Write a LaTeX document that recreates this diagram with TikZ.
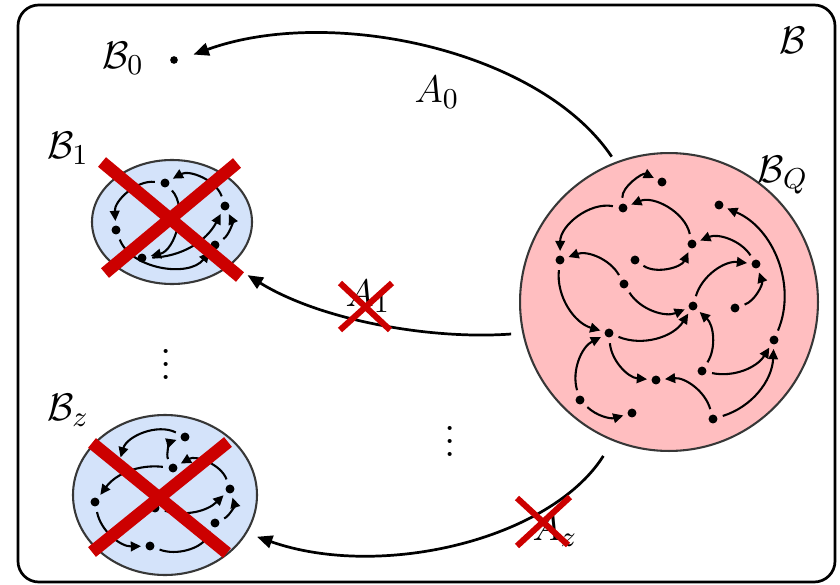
\documentclass[tikz,border=0pt]{standalone}
\usetikzlibrary{arrows.meta,shapes.geometric}
\definecolor{pinkQ}{RGB}{255,190,192}
\definecolor{blueB}{RGB}{212,227,250}
\definecolor{crossred}{RGB}{204,0,0}
\definecolor{rim}{RGB}{55,55,55}
\begin{document}
\begin{tikzpicture}[x=0.3125pt,y=-0.3125pt,
  dot/.style={circle,fill=black,inner sep=0pt,minimum size=2.8pt},
  ia/.style={-{Triangle[length=3.2pt,width=3pt]},line width=0.65pt,shorten <=1.6pt,shorten >=1.2pt},
  ma/.style={-{Triangle[length=4.8pt,width=4pt]},line width=0.85pt},
  lbl/.style={inner sep=0pt,font=\fontsize{13}{15}\selectfont},
  region/.style={draw=rim,line width=0.65pt,inner sep=0pt},
  xbig/.style={crossred,line width=3.9pt},
  xsmall/.style={crossred,line width=1.9pt}]
\useasboundingbox (0,0) rectangle (840,585);
\draw[line width=0.85pt,rounded corners=6.5pt] (18,5) rectangle (835,582);

% regions
\node[region,circle,fill=pinkQ,minimum size=93.1pt] (bQ) at (669,302) {};
\node[region,ellipse,fill=blueB,minimum width=50pt,minimum height=38.75pt] (b1) at (172,222) {};
\node[region,ellipse,fill=blueB,minimum width=57.5pt,minimum height=50pt] (bz) at (165,495) {};

% labels
\node[lbl] (lB) at (793,40) {$\mathcal{B}$};
\node[lbl] (lB0) at (123,58) {$\mathcal{B}_0$};
\node[dot,minimum size=2.4pt] (b0dot) at (174,60) {};
\node[lbl] (lA0) at (437,92) {$A_0$};
\node[lbl] (lB1) at (68,148) {$\mathcal{B}_1$};
\node[lbl] (lBQ) at (783,175) {$\mathcal{B}_Q$};
\node[lbl] (lBz) at (68,410) {$\mathcal{B}_z$};
\node[lbl] (lA1) at (368,296) {$A_1$};
\node[lbl] (lAz) at (555,530) {$A_z$};
\node[lbl] (vd1) at (166,355) {$\vdots$};
\node[lbl] (vd2) at (450,432) {$\vdots$};

% B_Q content
\foreach \n/\x/\y in {q1/662/182,q2/623/208,q3/719/205,q4/692/244,q5/560/260,q6/635/260,
  q7/756/264,q8/624/284,q9/693/306,q10/735/308,q11/609/333,q12/774/340,q13/702/371,
  q14/656/380,q15/580/400,q16/632/413,q17/713/419}
  \node[dot] (\n) at (\x,\y) {};
\draw[ia] (q2) to[bend left=60] (q1);
\draw[ia] (q4) to[bend right=50] (q2);
\draw[ia] (q2) to[bend right=50] (q5);
\draw[ia] (q8) to[bend right=40] (q5);
\draw[ia] (q6) to[bend right=50] (q4);
\draw[ia] (q7) to[bend right=40] (q4);
\draw[ia] (q12) to[bend right=45] (q3);
\draw[ia] (q9) to[bend left=40] (q7);
\draw[ia] (q10) to[bend right=45] (q7);
\draw[ia] (q8) to[bend right=40] (q9);
\draw[ia] (q5) to[bend right=40] (q11);
\draw[ia] (q11) to[bend right=40] (q9);
\draw[ia] (q13) to[bend right=40] (q9);
\draw[ia] (q11) to[bend right=40] (q14);
\draw[ia] (q15) to[bend left=40] (q11);
\draw[ia] (q17) to[bend right=40] (q14);
\draw[ia] (q13) to[bend right=35] (q12);
\draw[ia] (q17) to[bend right=35] (q12);
\draw[ia] (q15) to[bend right=30] (q16);

% B_1 content
\foreach \n/\x/\y in {p1/165/183,p2/225/206,p3/116/230,p4/142/258,p5/215/245}
  \node[dot] (\n) at (\x,\y) {};
\draw[ia] (p2) to[bend right=50] (p1);
\draw[ia] (p1) to[bend right=50] (p3);
\draw[ia] (p1) to[bend left=60] (p4);
\draw[ia] (p3) to[bend right=60] (p5);
\draw[ia] (p4) to[bend right=30] (p2);
\draw[ia] (p5) to[bend right=40] (p2);

% B_z content
\foreach \n/\x/\y in {r1/185/437,r2/173/468,r3/95/502,r4/230/489,r5/215/523,r6/150/546,r7/118/466,r8/155/508}
  \node[dot] (\n) at (\x,\y) {};
\draw[ia] (r1) to[bend right=50] (r7);
\draw[ia] (r2) to[bend left=50] (r1);
\draw[ia] (r4) to[bend right=50] (r2);
\draw[ia] (r2) to[bend right=30] (r3);
\draw[ia] (r3) to[bend right=40] (r6);
\draw[ia] (r6) to[bend right=40] (r5);
\draw[ia] (r8) to[bend right=30] (r4);
\draw[ia] (r5) to[bend right=40] (r4);

% main arrows
\draw[ma,shorten <=2pt,shorten >=5pt] (bQ.111) .. controls (540,50) and (330,5) .. (b0dot.east);
\draw[ma,shorten <=3.5pt,shorten >=6pt] (bQ.192) .. controls (430,340) and (320,320) .. (b1.-36);
\draw[ma,shorten <=5.5pt,shorten >=3.3pt] (bQ.-112) .. controls (550,540) and (380,580) .. (bz.-25);

% crosses
\draw[xbig] (102,162) -- (240,277);
\draw[xbig] (237,163) -- (105,273);
\draw[xbig] (92,443) -- (227,553);
\draw[xbig] (228,442) -- (92,552);
\draw[xsmall] (340,283) -- (390,330);
\draw[xsmall] (392,283) -- (340,330);
\draw[xsmall] (517,498) -- (568,545);
\draw[xsmall] (570,497) -- (517,546);
\end{tikzpicture}
\end{document}
